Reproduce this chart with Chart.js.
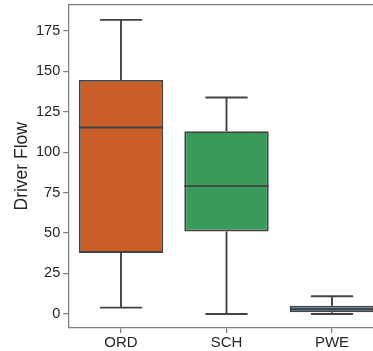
<!DOCTYPE html>
<html>
<head>
<meta charset="utf-8">
<script src="https://cdn.jsdelivr.net/npm/chart.js@4/dist/chart.umd.min.js"></script>
<style>
  html, body { margin: 0; padding: 0; background: #fff; }
  #wrap { width: 373px; height: 351px; overflow: hidden; position: relative; }
  canvas { display: block; }
</style>
</head>
<body>
<div id="wrap"><canvas id="c" width="386" height="351"></canvas></div>
<script>
const categories = ["ORD", "SCH", "PWE"];
const whiskerLow = [3.9, 0, 0];
const q1 = [37.7, 51, 1.1];
const median = [115.3, 79, 3.0];
const q3 = [144.7, 113, 5.1];
const whiskerHigh = [181.8, 133.8, 10.9];
const boxColors = ["#c95e29", "#3a9a5c", "#3a7dae"];
const yTicks = [0, 25, 50, 75, 100, 125, 150, 175];

const LINE = "#434343";
const SPINE = "#808080";

const boxPlugin = {
  id: "boxParts",
  afterDatasetsDraw(chart) {
    const ctx = chart.ctx;
    const x = chart.scales.x, y = chart.scales.y;
    const meta = chart.getDatasetMeta(0);
    ctx.save();
    ctx.beginPath();
    ctx.rect(chart.chartArea.left, chart.chartArea.top, chart.chartArea.right - chart.chartArea.left, chart.chartArea.bottom - chart.chartArea.top);
    ctx.clip();
    ctx.strokeStyle = LINE;
    ctx.lineWidth = 1.9;
    categories.forEach((c, i) => {
      const cx = x.getPixelForValue(i);
      const bw = meta.data[i].width;
      const capHalf = bw / 4;
      const yLo = y.getPixelForValue(whiskerLow[i]);
      const yQ1 = y.getPixelForValue(q1[i]);
      const yQ3 = y.getPixelForValue(q3[i]);
      const yHi = y.getPixelForValue(whiskerHigh[i]);
      const yMed = y.getPixelForValue(median[i]);
      ctx.beginPath();
      ctx.moveTo(cx, yQ3); ctx.lineTo(cx, yHi);
      ctx.moveTo(cx - capHalf, yHi); ctx.lineTo(cx + capHalf, yHi);
      ctx.moveTo(cx, yQ1); ctx.lineTo(cx, yLo);
      ctx.moveTo(cx - capHalf, yLo); ctx.lineTo(cx + capHalf, yLo);
      ctx.moveTo(cx - bw / 2, yMed); ctx.lineTo(cx + bw / 2, yMed);
      ctx.stroke();
    });
    ctx.restore();
    // top spine
    ctx.save();
    ctx.strokeStyle = SPINE;
    ctx.lineWidth = 1.25;
    ctx.beginPath();
    ctx.moveTo(chart.chartArea.left, chart.chartArea.top);
    ctx.lineTo(chart.chartArea.right, chart.chartArea.top);
    ctx.stroke();
    ctx.restore();
  }
};

new Chart(document.getElementById("c"), {
  type: "bar",
  data: {
    labels: categories,
    datasets: [{
      data: categories.map((c, i) => [q1[i], q3[i]]),
      backgroundColor: boxColors,
      borderColor: LINE,
      borderWidth: 1.9,
      borderSkipped: false,
      barPercentage: 0.8,
      categoryPercentage: 1.0
    }]
  },
  options: {
    responsive: false,
    animation: false,
    devicePixelRatio: 1,
    layout: { padding: { top: 4.5, right: 1.25, left: 0, bottom: 0 } },
    plugins: { legend: { display: false }, tooltip: { enabled: false } },
    scales: {
      x: {
        grid: { display: true, offset: false, drawOnChartArea: false, drawTicks: true, tickLength: 5, color: SPINE, lineWidth: 1.25 },
        border: { display: true, color: SPINE, width: 1.25 },
        ticks: { color: "#262626", font: { family: "'Liberation Sans', Arial, sans-serif", size: 15 }, padding: 1 },
        afterFit(scale) { scale.height = 23; }
      },
      y: {
        min: -8.7,
        max: 191.3,
        afterBuildTicks(scale) { scale.ticks = yTicks.map(v => ({ value: v })); },
        grid: { display: true, drawOnChartArea: false, drawTicks: true, tickLength: 5, color: SPINE, lineWidth: 1.25 },
        border: { display: true, color: SPINE, width: 1.25 },
        ticks: { color: "#262626", font: { family: "'Liberation Sans', Arial, sans-serif", size: 14.5 }, padding: 3 },
        title: {
          display: true,
          text: "Driver Flow",
          color: "#262626",
          font: { family: "'Liberation Sans', Arial, sans-serif", size: 17.5 },
          padding: { top: 11.5, bottom: 0 }
        },
        afterFit(scale) { scale.width = 68.25; scale.paddingTop = 0; scale.paddingBottom = 0; }
      }
    }
  },
  plugins: [boxPlugin]
});
</script>
</body>
</html>
